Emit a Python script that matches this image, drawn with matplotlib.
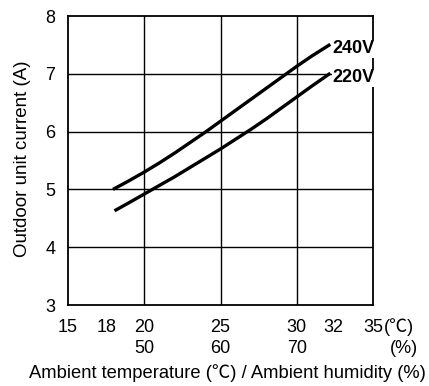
import matplotlib.pyplot as plt
import matplotlib.transforms as mtransforms

plt.rcParams['font.family'] = ['Liberation Sans', 'Noto Sans CJK JP', 'DejaVu Sans']

# data
temp_240 = [17.95, 19, 20, 21, 22, 23, 24, 25, 26, 27, 28, 29, 30, 31, 32.2]
amps_240 = [5.00, 5.15, 5.30, 5.46, 5.63, 5.81, 5.99, 6.18, 6.37, 6.56, 6.75, 6.94, 7.13, 7.31, 7.51]
temp_220 = [18.05, 19, 20, 21, 22, 23, 24, 25, 26, 27, 28, 29, 30, 31, 32.2]
amps_220 = [4.63, 4.77, 4.92, 5.07, 5.22, 5.38, 5.54, 5.70, 5.87, 6.04, 6.22, 6.41, 6.60, 6.79, 7.01]
series_names = ['240V', '220V']

temp_ticks = [15, 18, 20, 25, 30, 32, 35]
humid_ticks = [20, 25, 30]
humid_labels = ['50', '60', '70']
y_ticks = [3, 4, 5, 6, 7, 8]

fig = plt.figure(figsize=(4.29, 3.86), dpi=100)
ax = fig.add_axes([0.1585, 0.2098, 0.711, 0.7487])

ax.set_xlim(15, 35)
ax.set_ylim(3, 8)

for x in [20, 25, 30]:
    ax.axvline(x, color='black', lw=1.0, zorder=1)
for y in [4, 5, 6, 7]:
    ax.axhline(y, color='black', lw=1.0, zorder=1)

ax.plot(temp_240, amps_240, color='black', lw=2.4, solid_capstyle='butt', zorder=3)
ax.plot(temp_220, amps_220, color='black', lw=2.4, solid_capstyle='butt', zorder=3)

for xs, ys, name in [(temp_240, amps_240, series_names[0]), (temp_220, amps_220, series_names[1])]:
    ax.text(xs[-1] + 0.12, ys[-1] - 0.08, name, fontsize=13, fontweight='bold',
            va='center', ha='left', zorder=4,
            bbox=dict(facecolor='white', edgecolor='none', pad=0.3))

for s in ax.spines.values():
    s.set_linewidth(1.3)
    s.set_zorder(2)

ax.set_yticks(y_ticks)
ax.set_xticks([])
ax.tick_params(axis='y', length=0, labelsize=13, pad=9)

# x tick labels drawn as text rows (temperature / humidity)
xtrans = mtransforms.blended_transform_factory(ax.transData, ax.transAxes)
nudge = {18: -7, 32: 6}
for t in temp_ticks:
    tr = xtrans + mtransforms.ScaledTranslation(nudge.get(t, 0) / 100, 0, fig.dpi_scale_trans)
    ax.text(t, -0.0924, str(t), transform=tr, fontsize=13, ha='center', va='baseline')
for t, lab in zip(humid_ticks, humid_labels):
    ax.text(t, -0.167, lab, transform=xtrans, fontsize=13, ha='center', va='baseline')

ax.text(1.034, -0.0924, '(℃)', transform=ax.transAxes, fontsize=13, ha='left', va='baseline')
ax.text(1.1475, -0.167, '(%)', transform=ax.transAxes, fontsize=13, ha='right', va='baseline')

fig.text(0.53, 0.021, 'Ambient temperature (℃) / Ambient humidity (%)',
         fontsize=13.2, ha='center', va='baseline')
fig.text(0.053, 0.5875, 'Outdoor unit current (A)', fontsize=13.5,
         rotation=90, ha='center', va='center')

fig.savefig('out.png', dpi=100)
